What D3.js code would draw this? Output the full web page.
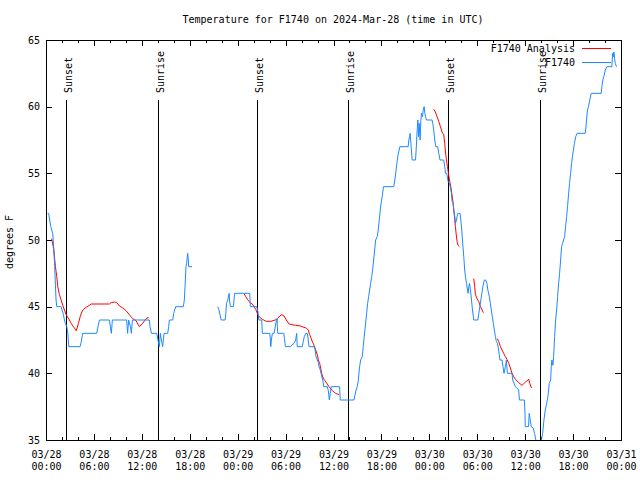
<!DOCTYPE html>
<html>
<head>
<meta charset="utf-8">
<script src="https://cdn.jsdelivr.net/npm/d3@7"></script>
<style>
  body { margin: 0; background: #fff; }
  text { font-family: "DejaVu Sans Mono", monospace; font-size: 10px; fill: #000; }
</style>
</head>
<body>
<svg id="chart" width="640" height="480"></svg>
<script>
var title = "Temperature for F1740 on 2024-Mar-28 (time in UTC)";
var yLabel = "degrees F";
var startTime = Date.UTC(2024, 2, 28, 0, 0);   // 03/28 00:00 UTC
var endTime = Date.UTC(2024, 2, 31, 0, 0);     // 03/31 00:00 UTC
var yTicks = [35, 40, 45, 50, 55, 60, 65];
var seriesNames = ["F1740 Analysis", "F1740"];
var seriesColors = ["#ff0000", "#1e88ff"];

// hours after start
var sunsetHours = [2.5, 26.375, 50.375];
var sunriseHours = [14.0, 37.875, 61.875];

// observations [hour, degF], null = gap
var observed = [
  [0.2,52],[0.33,52],[0.6,51],[0.84,50.5],[0.97,49.4],[1.09,48],[1.18,46.6],[1.26,45.5],[1.35,45],[1.89,45],
  [2.01,44.75],[2.18,44.4],[2.31,44],[2.43,43.75],[2.6,43.5],[2.72,43.1],[2.85,42],[4.27,42],[4.39,42.3],[4.59,43],
  [6.35,43],[6.48,43.4],[6.69,44],[7.93,44],[8.06,43.5],[8.18,43],[8.31,44],[10.1,44],[10.22,43],[10.35,44],
  [10.57,43.5],[10.69,43],[10.82,44],[12.95,44],[13.03,43.5],[13.2,43],[13.87,43],[14.02,42.5],[14.19,42],[14.32,43],
  [14.45,42.5],[14.61,42],[14.78,43],[15.24,43],[15.36,43.5],[15.45,44],[15.87,44],[15.99,44.5],[16.24,45],[17.2,45],
  [17.32,45.5],[17.41,46.5],[17.53,48],[17.61,48.25],[17.74,49],[17.82,48.5],[17.86,48],[18.29,48],
  null,
  [21.47,45],[21.59,44.9],[21.72,44.6],[21.93,44],[22.43,44],[22.52,44.5],[22.6,45.25],[22.77,45.5],[22.85,45.8],[22.94,46],
  [22.98,45.5],[23.1,45],[23.48,45],[23.6,46],[25.51,46],[25.59,45],[26.39,45],[26.46,44.8],[26.55,44.6],[26.64,44],
  [27.01,44],[27.05,43.5],[27.09,43],[28.02,43],[28.1,42.5],[28.15,42],[28.22,42.5],[28.35,43],[28.56,43],[28.68,43.4],
  [28.85,44],[28.94,44.1],[28.97,43.5],[29.02,43],[29.78,43],[29.86,42.6],[29.98,42],[30.64,42],[30.76,42.1],[31.05,42.25],
  [31.26,42.5],[31.39,43],[31.46,42],[32.09,42],[32.22,42.4],[32.34,42.75],[32.52,43],[32.72,43],[32.84,42.5],[32.93,42],
  [33.56,42],[33.69,41.8],[33.81,41.25],[33.98,41],[34.11,40.8],[34.19,40.5],[34.35,40.25],[34.52,39.8],[34.69,39.4],[34.77,39],
  [35.23,39],[35.35,38.7],[35.48,38],[35.6,38.5],[35.73,39],[36.76,39],[36.84,38],[38.56,38],[38.77,38.6],[38.97,39],
  [39.09,39.4],[39.27,40.5],[39.4,41],[39.6,41.25],[39.72,42],[39.85,42.75],[40.02,43.75],[40.15,44.5],[40.27,45.25],[40.4,45.75],
  [40.52,46.25],[40.65,46.75],[40.78,47.25],[40.9,47.75],[41.03,48.5],[41.15,49.25],[41.28,50],[41.48,50.25],[41.6,50.75],[41.73,51.5],
  [41.85,52.25],[41.96,52.75],[42.09,53.25],[42.26,54],[43.55,54],[43.68,54.5],[43.84,55.25],[43.97,55.9],[44.09,56.4],[44.31,57],
  [45.35,57],[45.44,57.5],[45.52,57.75],[45.6,58],[45.69,57.25],[45.85,56],[46.27,56],[46.35,56.75],[46.48,58.25],[46.56,59],
  [46.65,57.75],[46.73,58.75],[46.85,57.5],[46.94,59],[47.02,59.5],[47.15,59.25],[47.23,59.75],[47.35,60],[47.44,59.5],[47.52,59.25],
  [47.65,59],[48.34,59],[48.43,58.75],[48.55,58.25],[48.68,57.5],[48.8,57],[49.05,57],[49.18,56.5],[49.34,56],[49.8,56],
  [49.93,55.5],[50.02,55],[50.18,55],[50.35,54.4],[50.52,54.25],[50.65,53.9],[50.77,53.5],[50.85,52.9],[50.98,52.75],[51.06,52.25],
  [51.19,51.75],[51.27,51.25],[51.4,51.5],[51.56,52],[51.68,52],[51.85,52],[51.94,51.5],[52.06,50.75],[52.18,49.75],[52.31,48.75],
  [52.43,47.75],[52.52,47.25],[52.65,46.75],[52.78,46.25],[52.85,46],[52.94,46.5],[53.03,46.75],[53.15,46.25],[53.28,45.5],[53.4,44.75],
  [53.57,44],[54.07,44],[54.2,44.5],[54.32,45],[54.45,45.5],[54.58,46],[54.7,46.5],[54.89,47],[55.05,47],[55.21,46.75],
  [55.33,46.25],[55.51,45.75],[55.64,45.25],[55.76,44.75],[55.89,44.25],[56.01,43.75],[56.14,43.25],[56.27,42.75],[56.39,42.4],[56.52,42.25],
  [56.68,41.75],[56.84,41],[57.1,41],[57.22,40.5],[57.35,40],[57.52,40.5],[57.65,41],[57.77,40],[58.35,40],[58.44,39.5],
  [58.61,39.25],[58.78,39],[59.19,38.75],[59.28,38],[59.9,38],[59.98,37],[60.01,36],[60.42,36],[60.51,37],[60.63,36.5],
  [60.76,36],[61.01,35.9],[61.17,35.5],[61.34,35],[61.55,34.5],[61.8,34],[62.03,35],[62.19,35.5],[62.35,36.5],[62.52,37.25],
  [62.69,37.75],[62.85,38.25],[63.02,39.25],[63.19,39.5],[63.27,40.5],[63.35,41],[63.47,40.6],[63.56,41.25],[63.69,42.75],[63.81,44],
  [63.94,44.75],[64.06,45.75],[64.19,46.75],[64.31,47.5],[64.44,48.5],[64.56,49.5],[64.69,49.75],[64.81,50],[64.94,50.25],[65.06,51],
  [65.19,51.75],[65.31,52.5],[65.44,53.5],[65.56,54.25],[65.69,55],[65.81,55.75],[65.92,56.25],[66.04,56.75],[66.17,57.25],[66.33,57.75],
  [66.51,58],[67.52,58],[67.6,58.4],[67.68,59],[67.8,59.75],[67.93,60],[68.09,60.5],[68.27,61],[69.52,61],[69.6,61.5],
  [69.73,62],[69.85,62.25],[70.03,62.75],[70.23,63],[70.86,63],[70.95,64],[71.04,63.75],[71.11,64.1],[71.2,63.6],[71.28,63.25],
  [71.44,63]
];

// analysis [hour, degF], null = gap
var analysis = [
  [0.71,50.1],[0.97,49.3],[1.18,48],[1.35,47.25],[1.47,46.5],[1.68,45.9],[1.89,45.5],[2.1,45.1],[2.31,44.75],[2.52,44.4],
  [2.72,44.2],[2.94,44],[3.15,43.75],[3.35,43.55],[3.56,43.4],[3.78,43.2],[3.9,43.4],[4.06,43.75],[4.28,44.25],[4.48,44.6],
  [4.69,44.8],[5.02,44.95],[5.43,45.1],[5.65,45.2],[7.94,45.2],[8.16,45.3],[8.57,45.35],[8.86,45.3],[9.2,45.05],[9.61,44.9],
  [10.03,44.7],[10.43,44.4],[10.85,44.1],[11.27,43.95],[11.69,43.5],[12.1,43.75],[12.53,44.1],[12.85,44.2],
  null,
  [24.82,45.95],[25.01,45.75],[25.21,45.55],[25.42,45.4],[25.64,45.25],[25.84,45.2],[26.05,45],[26.26,44.8],[26.46,44.5],[26.68,44.25],
  [27.09,44.05],[27.59,43.9],[28.15,43.9],[28.69,44],[28.97,44.1],[29.27,44.3],[29.53,44.4],[29.81,44.3],[30.09,44],[30.43,43.7],
  [30.64,43.67],[31.26,43.6],[31.89,43.55],[32.3,43.45],[32.59,43.4],[32.84,43.25],[33.02,42.9],[33.27,42.5],[33.56,42.1],[33.77,41.75],
  [33.97,41.4],[34.1,41],[34.27,40.75],[34.44,40.25],[34.6,39.8],[34.81,39.55],[35.1,39.3],[35.44,39],[35.85,38.7],[36.27,38.5],
  [36.68,38.4],
  null,
  [48.55,59.8],[48.76,59.6],[48.96,59.25],[49.18,58.9],[49.39,58.5],[49.59,58.1],[49.8,57.9],[49.93,57.25],[50.02,56.6],[50.14,56],
  [50.27,55.5],[50.39,55],[50.52,54.5],[50.68,54],[50.81,53.5],[50.93,53],[51.06,52.25],[51.19,51.5],[51.27,51],[51.35,50.5],
  [51.47,49.9],[51.6,49.6],[51.77,49.5],
  null,
  [53.56,47.1],[53.68,46.5],[53.77,45.9],[53.97,45.6],[54.18,45.4],[54.4,45],[54.6,44.75],[54.77,44.55],
  null,
  [56.52,42.6],[56.68,42.4],[56.9,42],[57.1,41.75],[57.31,41.5],[57.52,41.25],[57.73,41.05],[57.94,40.75],[58.15,40.4],[58.35,40],
  [58.56,39.75],[58.78,39.55],[59.19,39.3],[59.61,39.1],[60.03,39.35],[60.45,39.55],[60.57,39.25],[60.79,38.9]
];

function toDate(h) { return new Date(startTime + h * 3600000); }

var svg = d3.select("#chart");
var plotLeft = 46, plotRight = 621, plotTop = 40, plotBottom = 440;

var x = d3.scaleUtc().domain([new Date(startTime), new Date(endTime)]).range([plotLeft, plotRight]);
var y = d3.scaleLinear().domain([35, 65]).range([plotBottom, plotTop]);

svg.append("text")
  .attr("x", 333).attr("y", 23)
  .attr("text-anchor", "middle")
  .text(title);

// ticks, all pointing inward
function tickGroup(axis, tx, ty) {
  var g = svg.append("g").attr("transform", "translate(" + tx + "," + ty + ")").call(axis);
  g.select(".domain").remove();
  g.selectAll("line").attr("stroke", "#000").attr("shape-rendering", "crispEdges");
  return g;
}
tickGroup(d3.axisBottom(x).ticks(d3.utcHour.every(2)).tickSize(-3).tickFormat(""), 0, plotBottom);
tickGroup(d3.axisTop(x).ticks(d3.utcHour.every(2)).tickSize(-3).tickFormat(""), 0, plotTop);
tickGroup(d3.axisBottom(x).ticks(d3.utcHour.every(6)).tickSize(-6).tickFormat(""), 0, plotBottom);
tickGroup(d3.axisTop(x).ticks(d3.utcHour.every(6)).tickSize(-6).tickFormat(""), 0, plotTop);
var yAxisG = tickGroup(d3.axisLeft(y).tickValues(yTicks).tickSize(-6).tickPadding(6).tickFormat(d3.format("d")), plotLeft, 0);
yAxisG.attr("font-family", null).attr("font-size", null);
tickGroup(d3.axisRight(y).tickValues(yTicks).tickSize(-6).tickFormat(""), plotRight, 0);

// two-line time labels
var fmtDay = d3.utcFormat("%m/%d"), fmtTime = d3.utcFormat("%H:%M");
var xLabels = svg.append("g").selectAll("text")
  .data(x.ticks(d3.utcHour.every(6)))
  .enter().append("text")
  .attr("text-anchor", "middle")
  .attr("transform", function(d) { return "translate(" + (x(d) + 0.5) + ",0)"; });
xLabels.append("tspan").attr("x", 0).attr("y", 457.5).text(function(d) { return fmtDay(d); });
xLabels.append("tspan").attr("x", 0).attr("y", 469.5).text(function(d) { return fmtTime(d); });

svg.append("text")
  .attr("transform", "translate(13,242) rotate(-90)")
  .attr("text-anchor", "middle")
  .text(yLabel);

// sunrise / sunset markers
var marks = sunsetHours.map(function(h) { return { h: h, label: "Sunset" }; })
  .concat(sunriseHours.map(function(h) { return { h: h, label: "Sunrise" }; }));
marks.forEach(function(m) {
  var px = Math.round(x(toDate(m.h))) + 0.5;
  svg.append("line")
    .attr("x1", px).attr("x2", px).attr("y1", 99.5).attr("y2", plotBottom + 0.5)
    .attr("stroke", "#000").attr("shape-rendering", "crispEdges");
  svg.append("text")
    .attr("transform", "translate(" + (px + 5) + ",93) rotate(-90)")
    .text(m.label);
});

// data
svg.append("clipPath").attr("id", "plotClip")
  .append("rect").attr("x", plotLeft + 0.5).attr("y", plotTop + 0.5)
  .attr("width", plotRight - plotLeft).attr("height", plotBottom - plotTop);

var line = d3.line()
  .defined(function(d) { return d !== null; })
  .x(function(d) { return x(toDate(d[0])); })
  .y(function(d) { return y(d[1]); });

svg.append("path").datum(analysis)
  .attr("clip-path", "url(#plotClip)")
  .attr("fill", "none").attr("stroke", seriesColors[0]).attr("stroke-width", 1)
  .attr("d", line);
svg.append("path").datum(observed)
  .attr("clip-path", "url(#plotClip)")
  .attr("fill", "none").attr("stroke", seriesColors[1]).attr("stroke-width", 1)
  .attr("d", line);

// legend
seriesNames.forEach(function(name, i) {
  var ly = 48.5 + i * 14;
  svg.append("text").attr("x", 575).attr("y", ly + 3.5)
    .attr("text-anchor", "end").text(name);
  svg.append("line").attr("x1", 582).attr("x2", 611).attr("y1", ly).attr("y2", ly)
    .attr("stroke", seriesColors[i]).attr("shape-rendering", "crispEdges");
});

// frame
svg.append("rect")
  .attr("x", plotLeft + 0.5).attr("y", plotTop + 0.5)
  .attr("width", plotRight - plotLeft).attr("height", plotBottom - plotTop)
  .attr("fill", "none").attr("stroke", "#000").attr("shape-rendering", "crispEdges");
</script>
</body>
</html>
